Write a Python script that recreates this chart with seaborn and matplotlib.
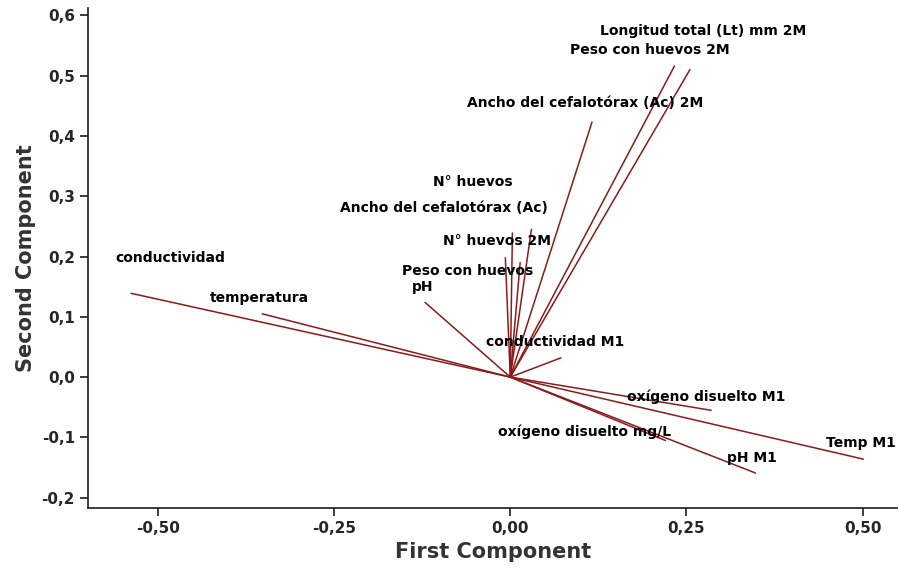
import matplotlib
matplotlib.use("Agg")
import matplotlib.pyplot as plt
import seaborn as sns
from matplotlib.ticker import FuncFormatter

sns.set_theme(style="ticks")
plt.rcParams["font.family"] = ["DejaVu Sans"]

variables = [
    "conductividad", "temperatura", "pH", "Peso con huevos", "N° huevos",
    "Ancho del cefalotórax (Ac)", "N° huevos 2M", "Ancho del cefalotórax (Ac) 2M",
    "Longitud total (Lt) mm 2M", "Peso con huevos 2M", "conductividad M1",
    "oxígeno disuelto M1", "Temp M1", "pH M1", "oxígeno disuelto mg/L",
]
pc1 = [-0.538, -0.352, -0.121, -0.007, 0.003, 0.030, 0.014, 0.116,
       0.233, 0.255, 0.072, 0.285, 0.501, 0.348, 0.220]
pc2 = [0.139, 0.105, 0.124, 0.198, 0.239, 0.245, 0.190, 0.423,
       0.516, 0.510, 0.032, -0.055, -0.136, -0.159, -0.105]
label_x = [-0.56, -0.426, -0.139, -0.153, -0.109, -0.241, -0.095, -0.062,
           0.128, 0.085, -0.035, 0.165, 0.448, 0.308, -0.018]
label_y = [0.198, 0.131, 0.149, 0.176, 0.324, 0.280, 0.226, 0.455,
           0.574, 0.543, 0.058, -0.032, -0.110, -0.134, -0.090]

fig, ax = plt.subplots(figsize=(8.99, 5.74), dpi=100)
fig.subplots_adjust(left=0.098, right=0.998, top=0.986, bottom=0.115)

color = "#8B1A1A"
for x, y in zip(pc1, pc2):
    ax.plot([0, x], [0, y], color=color, linewidth=1.1)
for name, lx, ly in zip(variables, label_x, label_y):
    ax.text(lx, ly, name, ha="left", va="center", fontsize=10,
            fontweight="bold", color="black")

ax.set_xlim(-0.599, 0.549)
ax.set_ylim(-0.217, 0.612)
ax.set_xticks([-0.5, -0.25, 0, 0.25, 0.5])
ax.set_yticks([-0.2, -0.1, 0, 0.1, 0.2, 0.3, 0.4, 0.5, 0.6])
ax.xaxis.set_major_formatter(FuncFormatter(lambda v, p: f"{v:.2f}".replace(".", ",")))
ax.yaxis.set_major_formatter(FuncFormatter(lambda v, p: f"{v:.1f}".replace(".", ",")))
ax.tick_params(labelsize=11)
for lab in ax.get_xticklabels() + ax.get_yticklabels():
    lab.set_fontweight("bold")
ax.set_xlabel("First Component", fontsize=15, fontweight="bold", color="#333333")
ax.set_ylabel("Second Component", fontsize=15, fontweight="bold", color="#333333")
sns.despine(ax=ax)

plt.savefig("out.png", dpi=100)
